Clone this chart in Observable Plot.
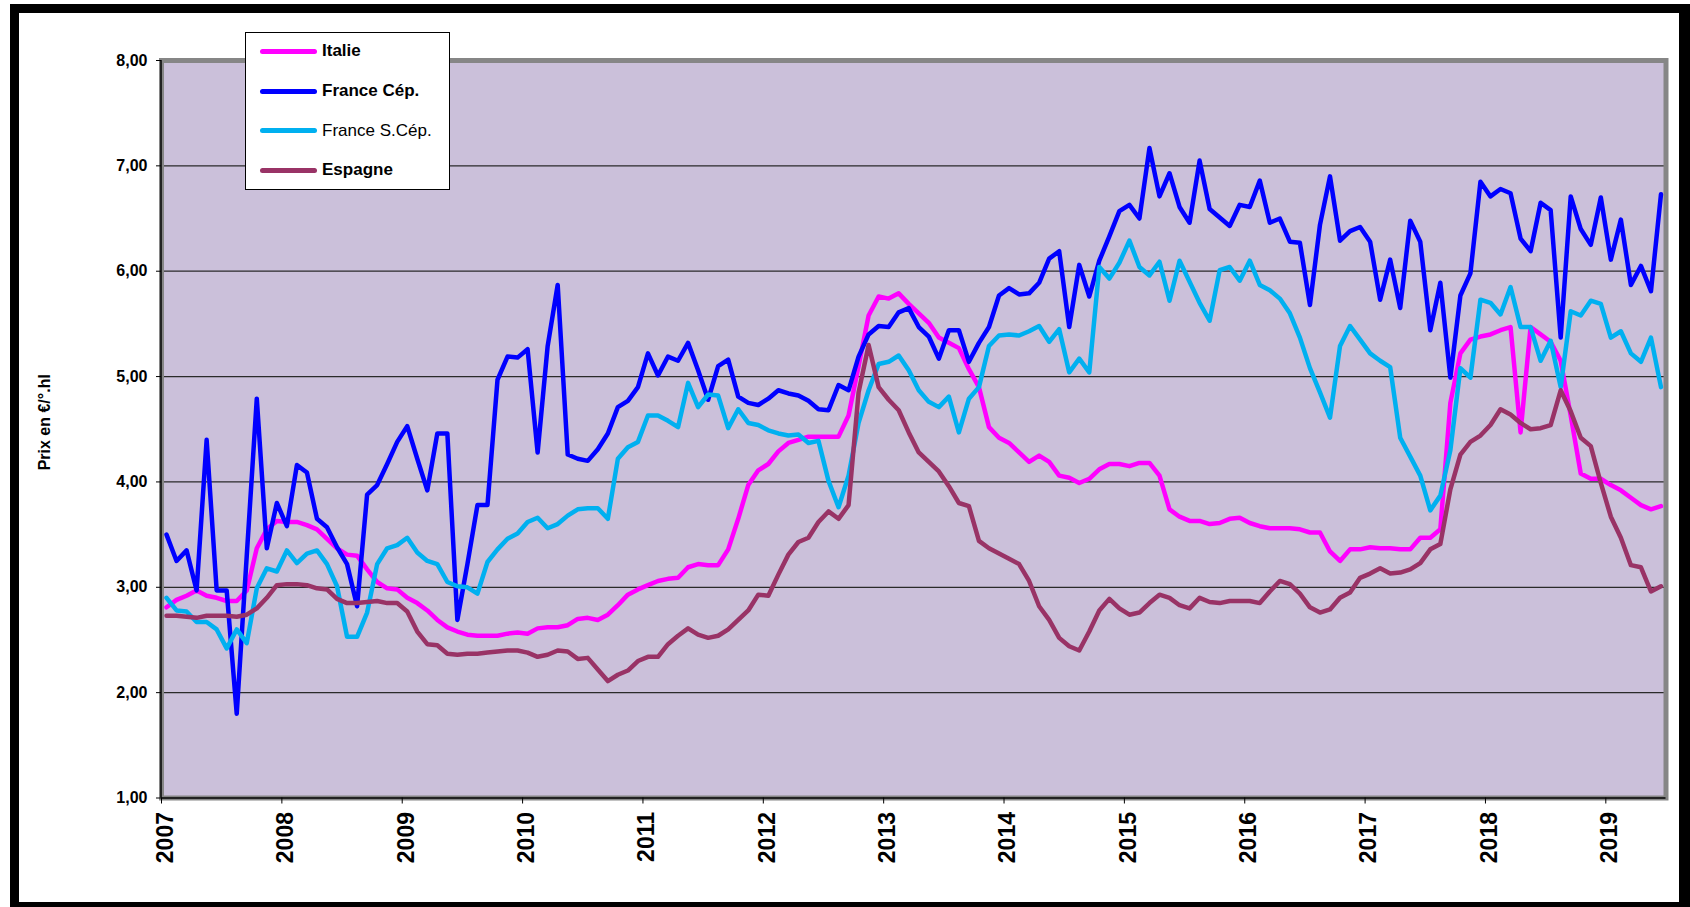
<!DOCTYPE html>
<html>
<head>
<meta charset="utf-8">
<script src="https://cdn.jsdelivr.net/npm/d3@7"></script>
<script src="https://cdn.jsdelivr.net/npm/@observablehq/plot@0.6"></script>
<style>
html, body { margin: 0; padding: 0; background: #fff; }
#wrap { position: relative; width: 1690px; height: 907px; overflow: hidden; font-family: "Liberation Sans", Arial, sans-serif; }
#border { position: absolute; left: 10px; top: 4px; width: 1660px; height: 889px; border: 9px solid #000; border-right-width: 12px; z-index: 3; pointer-events: none; }
#chart { position: absolute; left: 0; top: 0; z-index: 1; }
#legend { position: absolute; left: 245px; top: 32px; width: 203px; height: 156px; border: 1px solid #000; background: #fff; z-index: 2; }
.item { position: absolute; left: 0; height: 20px; width: 200px; }
.sw { position: absolute; left: 14px; width: 57px; height: 5px; border-radius: 3px; }
.lab { position: absolute; left: 76px; font-size: 17px; line-height: 20px; color: #000; white-space: nowrap; }
</style>
</head>
<body>
<div id="wrap">
  <div id="chart"></div>
  <div id="legend"></div>
  <div id="border"></div>
</div>
<script>
// Monthly series, Jan 2007 .. Jun 2019 (150 months)
const startYear = 2007;
const seriesNames = ["Italie", "France Cép.", "France S.Cép.", "Espagne"];
const seriesColors = ["#FF00FF", "#0000FF", "#00B0F0", "#993366"];
const seriesBold = [true, true, false, true];

const italie = [
  2.81, 2.88, 2.92, 2.97, 2.92, 2.90, 2.87, 2.87, 2.97, 3.37, 3.55, 3.63,
  3.62, 3.62, 3.59, 3.55, 3.46, 3.37, 3.31, 3.30, 3.17, 3.05, 2.99, 2.98,
  2.90, 2.85, 2.78, 2.69, 2.62, 2.58, 2.55, 2.54, 2.54, 2.54, 2.56, 2.57,
  2.56, 2.61, 2.62, 2.62, 2.64, 2.70, 2.71, 2.69, 2.74, 2.83, 2.93, 2.98,
  3.02, 3.06, 3.08, 3.09, 3.19, 3.22, 3.21, 3.21, 3.36, 3.65, 3.97, 4.11,
  4.17, 4.29, 4.37, 4.40, 4.43, 4.43, 4.43, 4.43, 4.63, 5.10, 5.58, 5.76,
  5.74, 5.79, 5.69, 5.60, 5.51, 5.37, 5.32, 5.27, 5.07, 4.90, 4.52, 4.42,
  4.37, 4.28, 4.19, 4.25, 4.19, 4.06, 4.04, 3.99, 4.03, 4.12, 4.17, 4.17,
  4.15, 4.18, 4.18, 4.06, 3.74, 3.67, 3.63, 3.63, 3.60, 3.61, 3.65, 3.66,
  3.61, 3.58, 3.56, 3.56, 3.56, 3.55, 3.52, 3.52, 3.34, 3.25, 3.36, 3.36,
  3.38, 3.37, 3.37, 3.36, 3.36, 3.47, 3.47, 3.55, 4.75, 5.22, 5.35, 5.38,
  5.40, 5.44, 5.47, 4.47, 5.47, 5.40, 5.33, 5.15, 4.63, 4.08, 4.03, 4.03,
  3.97, 3.92, 3.85, 3.78, 3.74, 3.77
];
const franceCep = [
  3.50, 3.25, 3.35, 2.97, 4.40, 2.97, 2.97, 1.80, 3.30, 4.79, 3.37, 3.80,
  3.58, 4.16, 4.09, 3.65, 3.57, 3.38, 3.22, 2.82, 3.88, 3.97, 4.17, 4.38,
  4.53, 4.22, 3.92, 4.46, 4.46, 2.69, 3.22, 3.78, 3.78, 4.97, 5.19, 5.18,
  5.26, 4.28, 5.29, 5.87, 4.26, 4.22, 4.20, 4.31, 4.46, 4.71, 4.77, 4.90,
  5.22, 5.01, 5.19, 5.15, 5.32, 5.06, 4.78, 5.10, 5.16, 4.81, 4.75, 4.73,
  4.79, 4.87, 4.84, 4.82, 4.77, 4.69, 4.68, 4.92, 4.87, 5.19, 5.40, 5.48,
  5.47, 5.61, 5.65, 5.47, 5.38, 5.17, 5.44, 5.44, 5.14, 5.32, 5.47, 5.77,
  5.84, 5.78, 5.79, 5.89, 6.12, 6.19, 5.47, 6.06, 5.76, 6.10, 6.33, 6.57,
  6.63, 6.50, 7.17, 6.71, 6.93, 6.61, 6.46, 7.05, 6.59, 6.51, 6.43, 6.63,
  6.61, 6.86, 6.46, 6.50, 6.28, 6.27, 5.68, 6.44, 6.90, 6.29, 6.38, 6.42,
  6.28, 5.73, 6.11, 5.65, 6.48, 6.28, 5.44, 5.89, 4.99, 5.77, 5.98, 6.85,
  6.71, 6.78, 6.74, 6.31, 6.19, 6.65, 6.58, 5.37, 6.71, 6.40, 6.25, 6.70,
  6.11, 6.49, 5.87, 6.05, 5.81, 6.73
];
const franceSCep = [
  2.90, 2.78, 2.77, 2.67, 2.67, 2.60, 2.42, 2.60, 2.47, 2.99, 3.18, 3.15,
  3.35, 3.23, 3.32, 3.35, 3.22, 3.01, 2.53, 2.53, 2.76, 3.22, 3.37, 3.40,
  3.47, 3.33, 3.25, 3.22, 3.05, 3.01, 3.00, 2.94, 3.24, 3.36, 3.46, 3.51,
  3.62, 3.66, 3.56, 3.60, 3.68, 3.74, 3.75, 3.75, 3.65, 4.22, 4.33, 4.38,
  4.63, 4.63, 4.58, 4.52, 4.94, 4.71, 4.83, 4.82, 4.51, 4.69, 4.56, 4.54,
  4.49, 4.46, 4.44, 4.45, 4.37, 4.39, 4.01, 3.76, 4.06, 4.56, 4.87, 5.12,
  5.14, 5.20, 5.06, 4.87, 4.76, 4.71, 4.81, 4.47, 4.79, 4.90, 5.29, 5.39,
  5.40, 5.39, 5.43, 5.48, 5.33, 5.45, 5.04, 5.17, 5.04, 6.04, 5.93, 6.08,
  6.29, 6.04, 5.96, 6.09, 5.72, 6.10, 5.90, 5.70, 5.53, 6.01, 6.04, 5.91,
  6.10, 5.87, 5.82, 5.74, 5.60, 5.37, 5.08, 4.85, 4.61, 5.29, 5.48, 5.35,
  5.22, 5.15, 5.09, 4.42, 4.24, 4.06, 3.73, 3.87, 4.30, 5.08, 4.99, 5.73,
  5.70, 5.59, 5.85, 5.47, 5.47, 5.15, 5.34, 4.90, 5.62, 5.58, 5.72, 5.69,
  5.37, 5.43, 5.22, 5.14, 5.37, 4.90
];
const espagne = [
  2.73, 2.73, 2.72, 2.71, 2.73, 2.73, 2.73, 2.72, 2.74, 2.80, 2.90, 3.02,
  3.03, 3.03, 3.02, 2.99, 2.98, 2.89, 2.85, 2.85, 2.86, 2.87, 2.85, 2.85,
  2.77, 2.58, 2.46, 2.45, 2.37, 2.36, 2.37, 2.37, 2.38, 2.39, 2.40, 2.40,
  2.38, 2.34, 2.36, 2.40, 2.39, 2.32, 2.33, 2.22, 2.11, 2.17, 2.21, 2.30,
  2.34, 2.34, 2.46, 2.54, 2.61, 2.55, 2.52, 2.54, 2.60, 2.69, 2.78, 2.93,
  2.92, 3.12, 3.31, 3.43, 3.47, 3.62, 3.72, 3.65, 3.78, 4.85, 5.30, 4.90,
  4.78, 4.68, 4.47, 4.28, 4.19, 4.10, 3.96, 3.80, 3.77, 3.44, 3.37, 3.32,
  3.27, 3.22, 3.06, 2.82, 2.69, 2.52, 2.44, 2.40, 2.58, 2.78, 2.89, 2.80,
  2.74, 2.76, 2.85, 2.93, 2.90, 2.83, 2.80, 2.90, 2.86, 2.85, 2.87, 2.87,
  2.87, 2.85, 2.96, 3.06, 3.03, 2.94, 2.81, 2.76, 2.79, 2.90, 2.95, 3.09,
  3.13, 3.18, 3.13, 3.14, 3.17, 3.23, 3.36, 3.41, 3.93, 4.26, 4.38, 4.44,
  4.54, 4.69, 4.64, 4.56, 4.50, 4.51, 4.54, 4.87, 4.67, 4.42, 4.34, 3.99,
  3.67, 3.47, 3.21, 3.19, 2.96, 3.01
];

const yTicks = [1, 2, 3, 4, 5, 6, 7, 8];
const yearLabels = [2007, 2008, 2009, 2010, 2011, 2012, 2013, 2014, 2015, 2016, 2017, 2018, 2019];
const yTitle = "Prix en €/°.hl";

const seriesValues = [italie, franceCep, franceSCep, espagne];
const nMonths = italie.length;
const rows = seriesNames.flatMap((name, k) =>
  seriesValues[k].map((v, i) => ({serie: name, m: i + 0.5, v}))
);
const yearTicks = yearLabels.map(y => (y - startYear) * 12);
const gridValues = yTicks.filter(t => t > yTicks[0] && t < yTicks[yTicks.length - 1]);

const chart = Plot.plot({
  width: 1690,
  height: 907,
  marginLeft: 161,
  marginRight: 24.5,
  marginTop: 60,
  marginBottom: 109.5,
  style: {background: "transparent", fontFamily: "'Liberation Sans', Arial, sans-serif", overflow: "visible", color: "#000"},
  x: {domain: [0, nMonths]},
  y: {domain: [yTicks[0], yTicks[yTicks.length - 1]]},
  color: {domain: seriesNames, range: seriesColors},
  marks: [
    Plot.frame({fill: "#CBC0DA", stroke: "none"}),
    Plot.ruleY(gridValues, {stroke: "#2a2a2a", strokeWidth: 1.3}),
    Plot.frame({stroke: "#868686", strokeWidth: 5}),
    Plot.ruleX([0], {stroke: "#000", strokeWidth: 1.5, dx: -0.5}),
    Plot.ruleY([yTicks[0]], {stroke: "#000", strokeWidth: 1.5}),
    Plot.axisY({ticks: yTicks, tickFormat: d => d.toFixed(2).replace(".", ","), tickSize: 5, tickPadding: 9, fontSize: 16, fontWeight: "bold", label: null}),
    Plot.axisX({ticks: yearTicks, tickSize: 6, fill: "none", label: null}),
    Plot.axisX({ticks: yearTicks, tickFormat: m => String(startYear + m / 12), tickRotate: -90, tickSize: 6, tickPadding: 8, stroke: "none", fontSize: 23, fontWeight: "bold", label: null, dx: 4}),
    Plot.line(rows, {x: "m", y: "v", z: "serie", stroke: "serie", strokeWidth: 4.5, strokeLinejoin: "round", strokeLinecap: "round"}),
    Plot.text([yTitle], {frameAnchor: "left", dx: -117, dy: -7, rotate: -90, textAnchor: "middle", fontSize: 16, fontWeight: "bold", fill: "#000"})
  ]
});
document.getElementById("chart").appendChild(chart);

// Legend
const legend = document.getElementById("legend");
const rowCenters = [18, 58, 97.5, 137];
seriesNames.forEach((name, k) => {
  const item = document.createElement("div");
  item.className = "item";
  item.style.top = (rowCenters[k] - 10) + "px";
  const sw = document.createElement("div");
  sw.className = "sw";
  sw.style.top = "7.5px";
  sw.style.background = seriesColors[k];
  const lab = document.createElement("div");
  lab.className = "lab";
  lab.style.top = "0px";
  lab.style.fontWeight = seriesBold[k] ? "bold" : "normal";
  lab.textContent = name;
  item.appendChild(sw);
  item.appendChild(lab);
  legend.appendChild(item);
});
</script>
</body>
</html>
